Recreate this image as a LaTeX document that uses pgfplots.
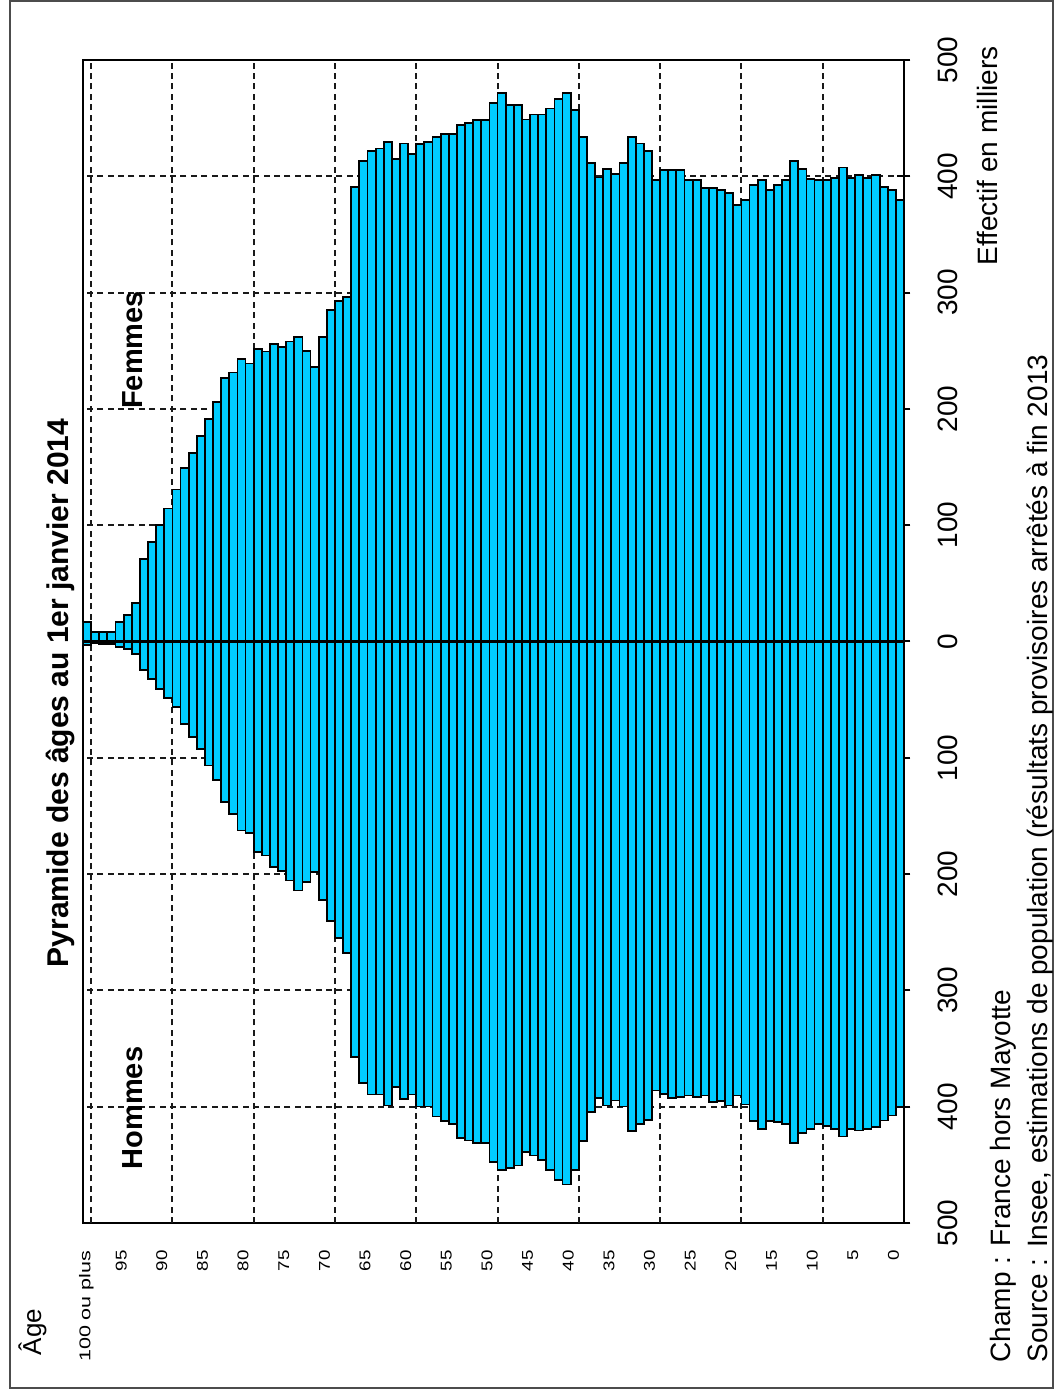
\documentclass[border=0pt]{standalone}
\usepackage{pgfplots}
\pgfplotsset{compat=1.18}
\usepackage{pgfplotstable}
\usepackage{fontspec}
\setmainfont{Liberation Sans}
\newfontfamily\agefont[FakeStretch=1.2]{Liberation Sans}
\definecolor{barcyan}{RGB}{0,204,255}

\pgfplotstableread{
age f h
0 379.9 400.4
1 388.5 407.6
2 390.8 411.9
3 400.9 417.6
4 398.6 419.0
5 400.9 420.5
6 398.6 419.0
7 407.5 425.6
8 398.6 419.0
9 396.6 416.7
10 396.6 414.7
11 398.0 419.0
12 406.6 422.8
13 413.2 431.4
14 396.6 414.7
15 392.8 413.3
16 388.5 412.5
17 396.6 419.0
18 392.8 412.5
19 379.9 398.1
20 375.6 390.4
21 385.9 399.0
22 388.5 395.3
23 390.0 396.1
24 390.2 390.4
25 396.6 391.8
26 396.6 390.4
27 405.7 391.8
28 405.7 392.4
29 405.7 388.9
30 396.6 386.1
31 421.8 411.3
32 428.2 414.7
33 433.9 421.0
34 411.5 399.8
35 402.3 394.7
36 406.6 399.0
37 398.9 392.4
38 411.5 404.7
39 433.9 429.7
40 456.9 454.3
41 471.3 466.9
42 466.4 462.9
43 458.3 454.3
44 453.2 445.7
45 453.2 442.0
46 448.9 439.1
47 461.2 450.6
48 461.2 452.6
49 471.3 454.3
50 463.2 447.7
51 448.3 431.4
52 448.3 431.4
53 446.0 429.1
54 444.0 426.7
55 436.2 414.7
56 436.2 412.4
57 433.9 408.4
58 429.6 399.8
59 427.6 399.8
60 419.0 389.5
61 428.2 393.2
62 415.2 383.2
63 429.6 399.0
64 423.9 389.5
65 421.6 389.5
66 413.2 379.8
67 390.8 357.4
68 296.5 268.0
69 293.0 255.0
70 285.0 240.0
71 262.0 222.0
72 236.0 198.0
73 250.0 207.0
74 261.5 214.1
75 258.0 205.5
76 252.9 197.5
77 255.7 194.1
78 249.4 184.0
79 251.4 181.2
80 239.1 164.8
81 242.8 162.5
82 231.3 148.2
83 226.4 138.2
84 206.0 118.9
85 191.1 106.6
86 176.7 92.3
87 162.4 82.3
88 149.4 70.8
89 130.7 56.5
90 114.4 48.4
91 100.0 40.7
92 85.6 32.1
93 71.0 24.4
94 33.0 10.6
95 23.0 6.3
96 16.7 4.9
97 8.0 2.5
98 8.0 2.0
99 8.0 1.5
100 16.7 3.0
}\pyr

\begin{document}
\begin{tikzpicture}
\path[use as bounding box] (0pt,0pt) rectangle (528pt,696.5pt);
\draw[black!70, line width=1pt] (5pt,2.5pt) rectangle (526.5pt,696pt);
\begin{axis}[
  at={(246.75pt,375.75pt)}, anchor=center,
  scale only axis, width=410.5pt, height=581.5pt,
  xmin=0, xmax=101, x dir=reverse,
  ymin=-500, ymax=500,
  /pgf/number format/assume math mode=true,
  axis line style={black, line width=1pt},
  xtick={1.3,6.3,11.3,16.3,21.3,26.3,31.3,36.3,41.3,46.3,51.3,56.3,61.3,66.3,71.3,76.3,81.3,86.3,91.3,96.3,100.6},
  xticklabels={0,5,10,15,20,25,30,35,40,45,50,55,60,65,70,75,80,85,90,95,{\scalebox{1.15}[1]{100 ou plus}}},
  xtick style={draw=none},
  xticklabel style={font=\agefont\fontsize{7.8}{9}\selectfont, rotate=90, anchor=east},
  xticklabel shift=7pt,
  extra x ticks={10,20,30,40,50,60,70,80,90,100},
  extra x tick labels={},
  extra x tick style={xmajorgrids=true},
  ytick={-500,-400,-300,-200,-100,0,100,200,300,400,500},
  yticklabels={500,400,300,200,100,0,100,200,300,400,500},
  ytick pos=right, yticklabel pos=right,
  tick align=center, major tick length=6.5pt,
  ytick style={black, line width=1pt},
  yticklabel style={font=\fontsize{14}{16}\selectfont, rotate=90, anchor=north},
  yticklabel shift=10pt,
  ymajorgrids=true,
  major grid style={black!90, dash pattern=on 3pt off 2.2pt, line width=1.05pt},
]
\addplot[ybar, bar width=1, bar shift=0pt, fill=barcyan, draw=black, line width=0.9pt]
  table[x expr=\thisrow{age}+0.5, y=f]{\pyr};
\addplot[ybar, bar width=1, bar shift=0pt, fill=barcyan, draw=black, line width=0.9pt]
  table[x expr=\thisrow{age}+0.5, y expr=-\thisrow{h}]{\pyr};
\draw[black, line width=1.1pt] (axis cs:0,0) -- (axis cs:101,0);
\end{axis}
\node[rotate=90, anchor=base, inner sep=0pt, font=\bfseries\fontsize{15}{18}\selectfont] at (34pt,350pt) {Pyramide des âges au 1er janvier 2014};
\node[rotate=90, anchor=base, inner sep=0pt, font=\bfseries\fontsize{14.5}{17}\selectfont] at (71pt,521.5pt) {Femmes};
\node[rotate=90, anchor=base, inner sep=0pt, font=\bfseries\fontsize{14.5}{17}\selectfont] at (71pt,142.5pt) {Hommes};
\node[rotate=90, anchor=base, inner sep=0pt, font=\fontsize{14}{17}\selectfont] at (498.5pt,618.5pt) {Effectif en milliers};
\node[rotate=90, anchor=base, inner sep=0pt, font=\fontsize{13}{15}\selectfont] at (20.5pt,30.5pt) {Âge};
\node[rotate=90, anchor=base west, inner sep=0pt, font=\fontsize{14}{17}\selectfont] at (505pt,15pt) {Champ : France hors Mayotte};
\node[rotate=90, anchor=base west, inner sep=0pt, font=\fontsize{14}{17}\selectfont] at (523.5pt,15pt) {Source : Insee, estimations de population (résultats provisoires arrêtés à fin 2013};
\end{tikzpicture}
\end{document}
